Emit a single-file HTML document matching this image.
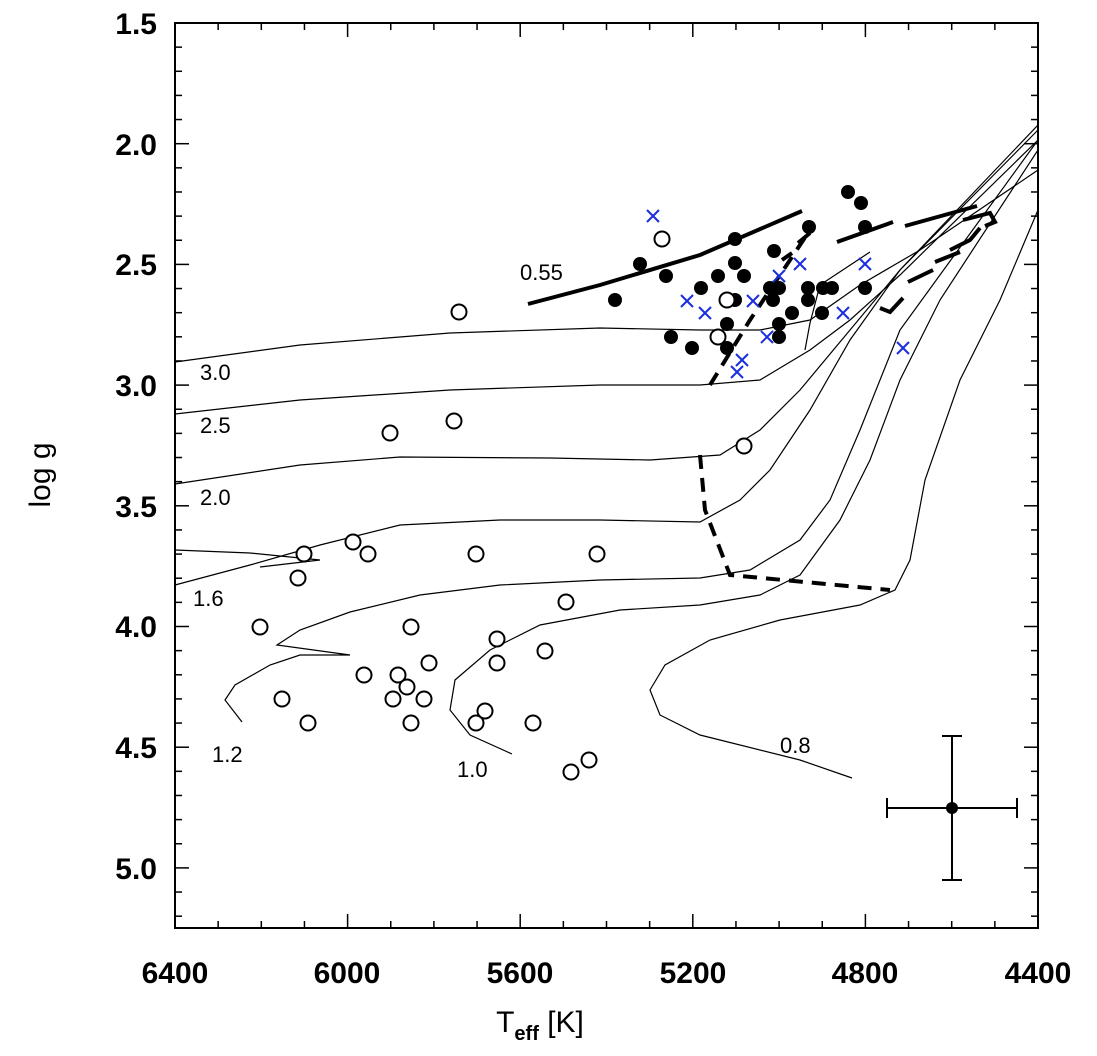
<!DOCTYPE html>
<html><head><meta charset="utf-8"><style>body{margin:0;background:#fff}svg{display:block}</style></head><body>
<svg width="1097" height="1056" viewBox="0 0 1097 1056" xmlns="http://www.w3.org/2000/svg" font-family="Liberation Sans, sans-serif">
<rect x="175" y="23" width="863" height="905" fill="none" stroke="#000" stroke-width="2"/>
<g stroke="#000" stroke-width="1.5" id="tk"></g>
<g font-size="30" font-weight="bold" text-anchor="end" fill="#000">
<text x="157" y="34">1.5</text><text x="157" y="155">2.0</text><text x="157" y="275">2.5</text><text x="157" y="396">3.0</text><text x="157" y="517">3.5</text><text x="157" y="637">4.0</text><text x="157" y="758">4.5</text><text x="157" y="879">5.0</text>
</g>
<g font-size="30" font-weight="bold" text-anchor="middle">
<text x="175" y="983">6400</text><text x="347" y="983">6000</text><text x="520" y="983">5600</text><text x="693" y="983">5200</text><text x="865" y="983">4800</text><text x="1038" y="983">4400</text>
</g>
<text transform="translate(50,475) rotate(-90)" font-size="30" text-anchor="middle">log g</text>
<text x="540" y="1032" font-size="30" text-anchor="middle">T<tspan font-size="20" font-weight="bold" dy="8">eff</tspan><tspan dy="-8"> [K]</tspan></text>
<g fill="none" stroke="#000" stroke-width="1.2">
<polyline points="175,362 300,345 450,333 600,328 700,330 760,330 810,320 860,285 920,250 1038,170"/>
<polyline points="175,414 300,400 450,390 600,385 700,385 760,380 810,350 850,320 900,275 1038,140"/>
<polyline points="175,484 300,465 400,457 550,458 650,460 720,455 760,430 800,390 850,330 900,270 1038,125"/>
<polyline points="175,585 250,565 320,545 400,525 500,520 600,520 700,522 740,500 770,470 810,410 850,340 900,270 1038,130"/>
<polyline points="175,550 250,553 320,560 260,567"/>
<polyline points="242,722 225,700 235,685 270,665 300,655 350,655 277,645 300,630 350,612 420,595 500,585 600,580 700,578 750,570 800,540 830,500 860,430 900,330 1038,140"/>
<polyline points="512,754 470,735 450,710 455,680 490,650 540,625 620,610 700,605 760,595 800,575 840,520 870,460 900,380 940,300 1038,150"/>
<polyline points="852,778 800,760 700,735 660,715 650,690 665,665 710,640 780,620 860,605 895,590 910,560 925,480 960,380 1000,300 1038,210"/>
<polyline points="805,350 810,323 820,285 870,252"/>
</g>
<g fill="none" stroke="#000" stroke-width="4">
<polyline points="528,304 600,285 700,255 802,211"/>
<g stroke-dasharray="14,9"><polyline points="710,385 750,320 810,230"/><polyline points="700,455 705,510 730,575 890,590"/></g>
<line x1="837" y1="242" x2="893" y2="222"/><line x1="905" y1="226" x2="977" y2="206"/>
<polyline points="963,220 990,213 995,222 985,226"/>
<polyline points="950,250 970,240 980,228"/><polyline points="935,262 960,252"/>
<line x1="908" y1="282" x2="933" y2="270"/><polyline points="880,308 890,312 903,298"/>
<line x1="798" y1="243" x2="810" y2="233"/><line x1="782" y1="260" x2="792" y2="253"/>
</g>
<g font-size="22" fill="#000"><text x="520" y="280">0.55</text><text x="200" y="380">3.0</text><text x="200" y="433">2.5</text><text x="200" y="505">2.0</text><text x="193" y="606">1.6</text><text x="212" y="762">1.2</text><text x="457" y="777">1.0</text><text x="780" y="753">0.8</text></g>
<g fill="#000" id="fc"></g>
<g fill="#fff" stroke="#000" stroke-width="2" id="oc"></g>
<g stroke="#1a2ee0" stroke-width="2" id="xc"></g>
<g stroke="#000" stroke-width="2"><line x1="952" y1="736" x2="952" y2="880"/><line x1="887" y1="808" x2="1017" y2="808"/><line x1="942" y1="736" x2="962" y2="736"/><line x1="942" y1="880" x2="962" y2="880"/><line x1="887" y1="798" x2="887" y2="818"/><line x1="1017" y1="798" x2="1017" y2="818"/></g>
<circle cx="952" cy="808" r="6"/>
</svg>
<script>
var NS="http://www.w3.org/2000/svg";function el(p,t,a){var e=document.createElementNS(NS,t);for(var k in a)e.setAttribute(k,a[k]);document.getElementById(p).appendChild(e);}
for(var T=6400;T>=4400;T-=100){var x=175+(6400-T)*0.4315,L=(T%400==0)?14:7;el("tk","line",{x1:x,y1:928,x2:x,y2:928-L});el("tk","line",{x1:x,y1:23,x2:x,y2:23+L});}
for(var i=0;i<=37;i++){var g=1.5+i*0.1,y=23+(g-1.5)*241.4,L=(i%5==0)?14:7;el("tk","line",{x1:175,y1:y,x2:175+L,y2:y});el("tk","line",{x1:1038,y1:y,x2:1038-L,y2:y});}
[[848,192],[861,203],[865,227],[809,227],[735,239],[774,251],[640,264],[735,263],[666,276],[718,276],[744,276],[701,288],[770,288],[779,288],[808,288],[823,288],[832,288],[865,288],[615,300],[735,300],[773,300],[808,300],[792,313],[822,313],[727,324],[779,324],[671,337],[779,337],[692,348],[727,348]].forEach(function(p){el("fc","circle",{cx:p[0],cy:p[1],r:7});});
[[662,239],[459,312],[727,300],[718,337],[744,446],[390,433],[454,421],[304,554],[298,578],[353,542],[368,554],[476,554],[597,554],[260,627],[282,699],[308,723],[364,675],[393,699],[398,675],[407,687],[411,627],[429,663],[424,699],[411,723],[497,639],[497,663],[545,651],[566,602],[533,723],[476,723],[485,711],[571,772],[589,760]].forEach(function(p){el("oc","circle",{cx:p[0],cy:p[1],r:7.5});});
[[653,216],[800,264],[865,264],[779,276],[687,301],[753,301],[705,313],[843,313],[767,337],[742,360],[737,372],[903,348]].forEach(function(p){el("xc","line",{x1:p[0]-6,y1:p[1]-6,x2:p[0]+6,y2:p[1]+6});el("xc","line",{x1:p[0]-6,y1:p[1]+6,x2:p[0]+6,y2:p[1]-6});});
</script>
</body></html>
